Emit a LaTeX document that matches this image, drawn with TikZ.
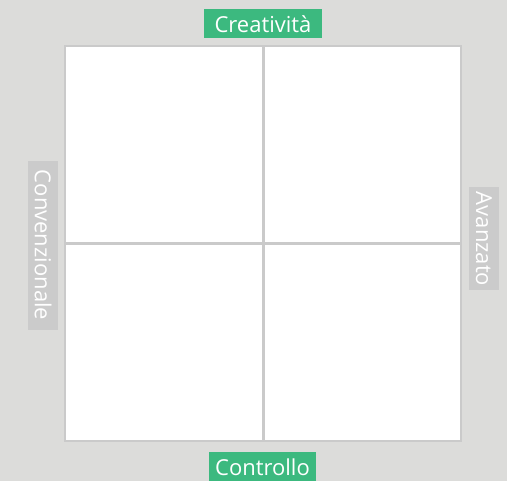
\documentclass[tikz,border=0pt]{standalone}
\usepackage{fontspec}
\setmainfont{Open Sans}
\definecolor{bggray}{HTML}{DCDCDA}
\definecolor{linegray}{HTML}{CACACA}
\definecolor{tagbox}{HTML}{CBCBCB}
\definecolor{tagGreen}{HTML}{3CB97F}
\begin{document}
\begin{tikzpicture}[x=1pt,y=-1pt,
  axislabel/.style={text=white,font=\fontsize{22}{26}\selectfont,inner sep=0pt,anchor=center},
  greentag/.style={fill=tagGreen},
  graytag/.style={fill=tagbox}]
  % canvas
  \fill[bggray] (0,0) rectangle (507,481);
  \useasboundingbox (0,0) rectangle (507,481);
  % quadrant square
  \fill[white] (65,46) rectangle (461,441);
  \draw[linegray,line width=1.5pt] (65,46) rectangle (461,441);
  \coordinate (top) at (263.5,46);
  \coordinate (bottom) at (263.5,441);
  \coordinate (left) at (65,244);
  \coordinate (right) at (461,244);
  \draw[linegray,line width=3pt] (top) -- (bottom);
  \draw[linegray,line width=3pt] (left) -- (right);
  % axis tags
  \fill[greentag] (204,9) rectangle (322,38);
  \node[axislabel] (creat) at (263,24) {Creatività};
  \fill[greentag] (209,452) rectangle (316,481);
  \node[axislabel] (contr) at (262.5,467) {Controllo};
  \fill[graytag] (28,161) rectangle (58,330);
  \node[axislabel,rotate=-90] (conv) at (43,245) {Convenzionale};
  \fill[graytag] (469,187) rectangle (499,290);
  \node[axislabel,rotate=-90] (avanz) at (484,239) {Avanzato};
\end{tikzpicture}
\end{document}
